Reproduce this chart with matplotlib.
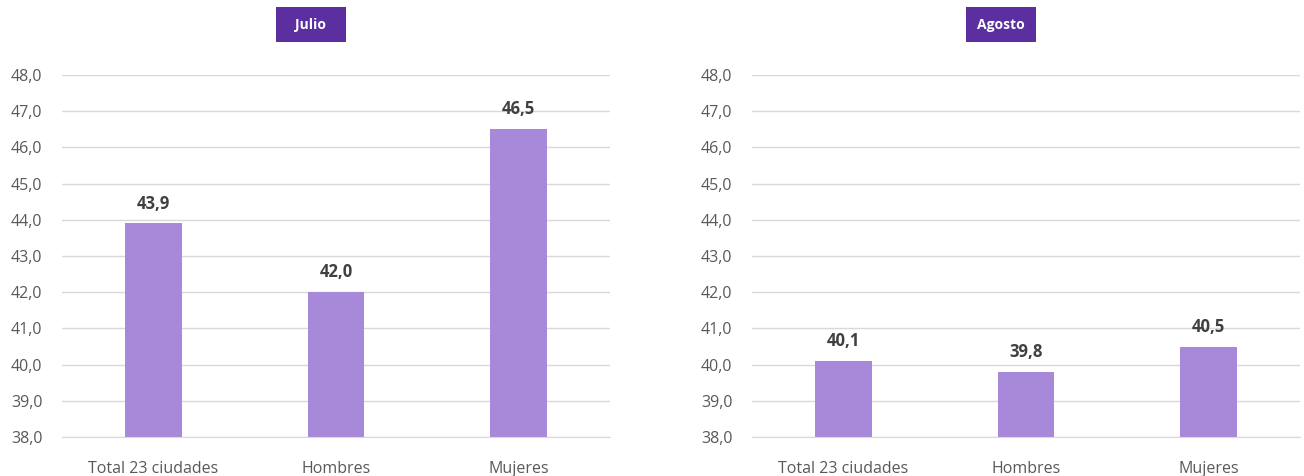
import matplotlib.pyplot as plt
from matplotlib.patches import Rectangle

categories = ["Total 23 ciudades", "Hombres", "Mujeres"]
julio = [43.9, 42.0, 46.5]
agosto = [40.1, 39.8, 40.5]
months = ["Julio", "Agosto"]
yticks = [38, 39, 40, 41, 42, 43, 44, 45, 46, 47, 48]

BAR = "#A788D9"
BOX = "#5B2FA0"
GRID = "#D9D9D9"
TXT = "#595959"

plt.rcParams['font.family'] = ['Open Sans', 'DejaVu Sans']

fig = plt.figure(figsize=(13.04, 4.76), dpi=100)
W, H = 1304, 476
panels = [(62, julio, months[0]), (752, agosto, months[1])]

for left, vals, title in panels:
    ax = fig.add_axes([left / W, 1 - 437 / H, 548 / W, (437 - 75) / H])
    x = list(range(len(categories)))
    ax.bar(x, [v - 38 for v in vals], bottom=38, width=0.31, color=BAR, zorder=3)
    for xi, v in zip(x, vals):
        ax.text(xi, v + 0.3, f"{v:.1f}".replace(".", ","), ha="center", va="bottom",
                fontsize=12, fontweight="bold", color="#404040")
    ax.set_xlim(-0.5, 2.5)
    ax.set_ylim(38, 48)
    ax.set_yticks(yticks)
    ax.set_yticklabels([f"{t:.1f}".replace(".", ",") for t in yticks])
    ax.set_xticks(x)
    ax.set_xticklabels(categories)
    ax.tick_params(axis="both", length=0, colors=TXT, labelsize=11.5)
    ax.tick_params(axis="y", pad=14)
    ax.tick_params(axis="x", pad=17)
    ax.grid(axis="y", color=GRID, linewidth=1, zorder=0)
    for s in ["top", "right", "left"]:
        ax.spines[s].set_visible(False)
    ax.spines["bottom"].set_color(GRID)
    ax.spines["bottom"].set_zorder(4)
    # title box (fixed 70x35 px), slightly left of the axes center
    bx = left + 214
    fig.patches.append(Rectangle((bx / W, 1 - 42 / H), 70 / W, 35 / H,
                                 transform=fig.transFigure, facecolor=BOX,
                                 edgecolor="none"))
    fig.text((bx + 35) / W, 1 - 24.5 / H, title, ha="center", va="center",
             fontsize=10, fontweight="bold", color="white")

fig.savefig("out.png", dpi=100)
